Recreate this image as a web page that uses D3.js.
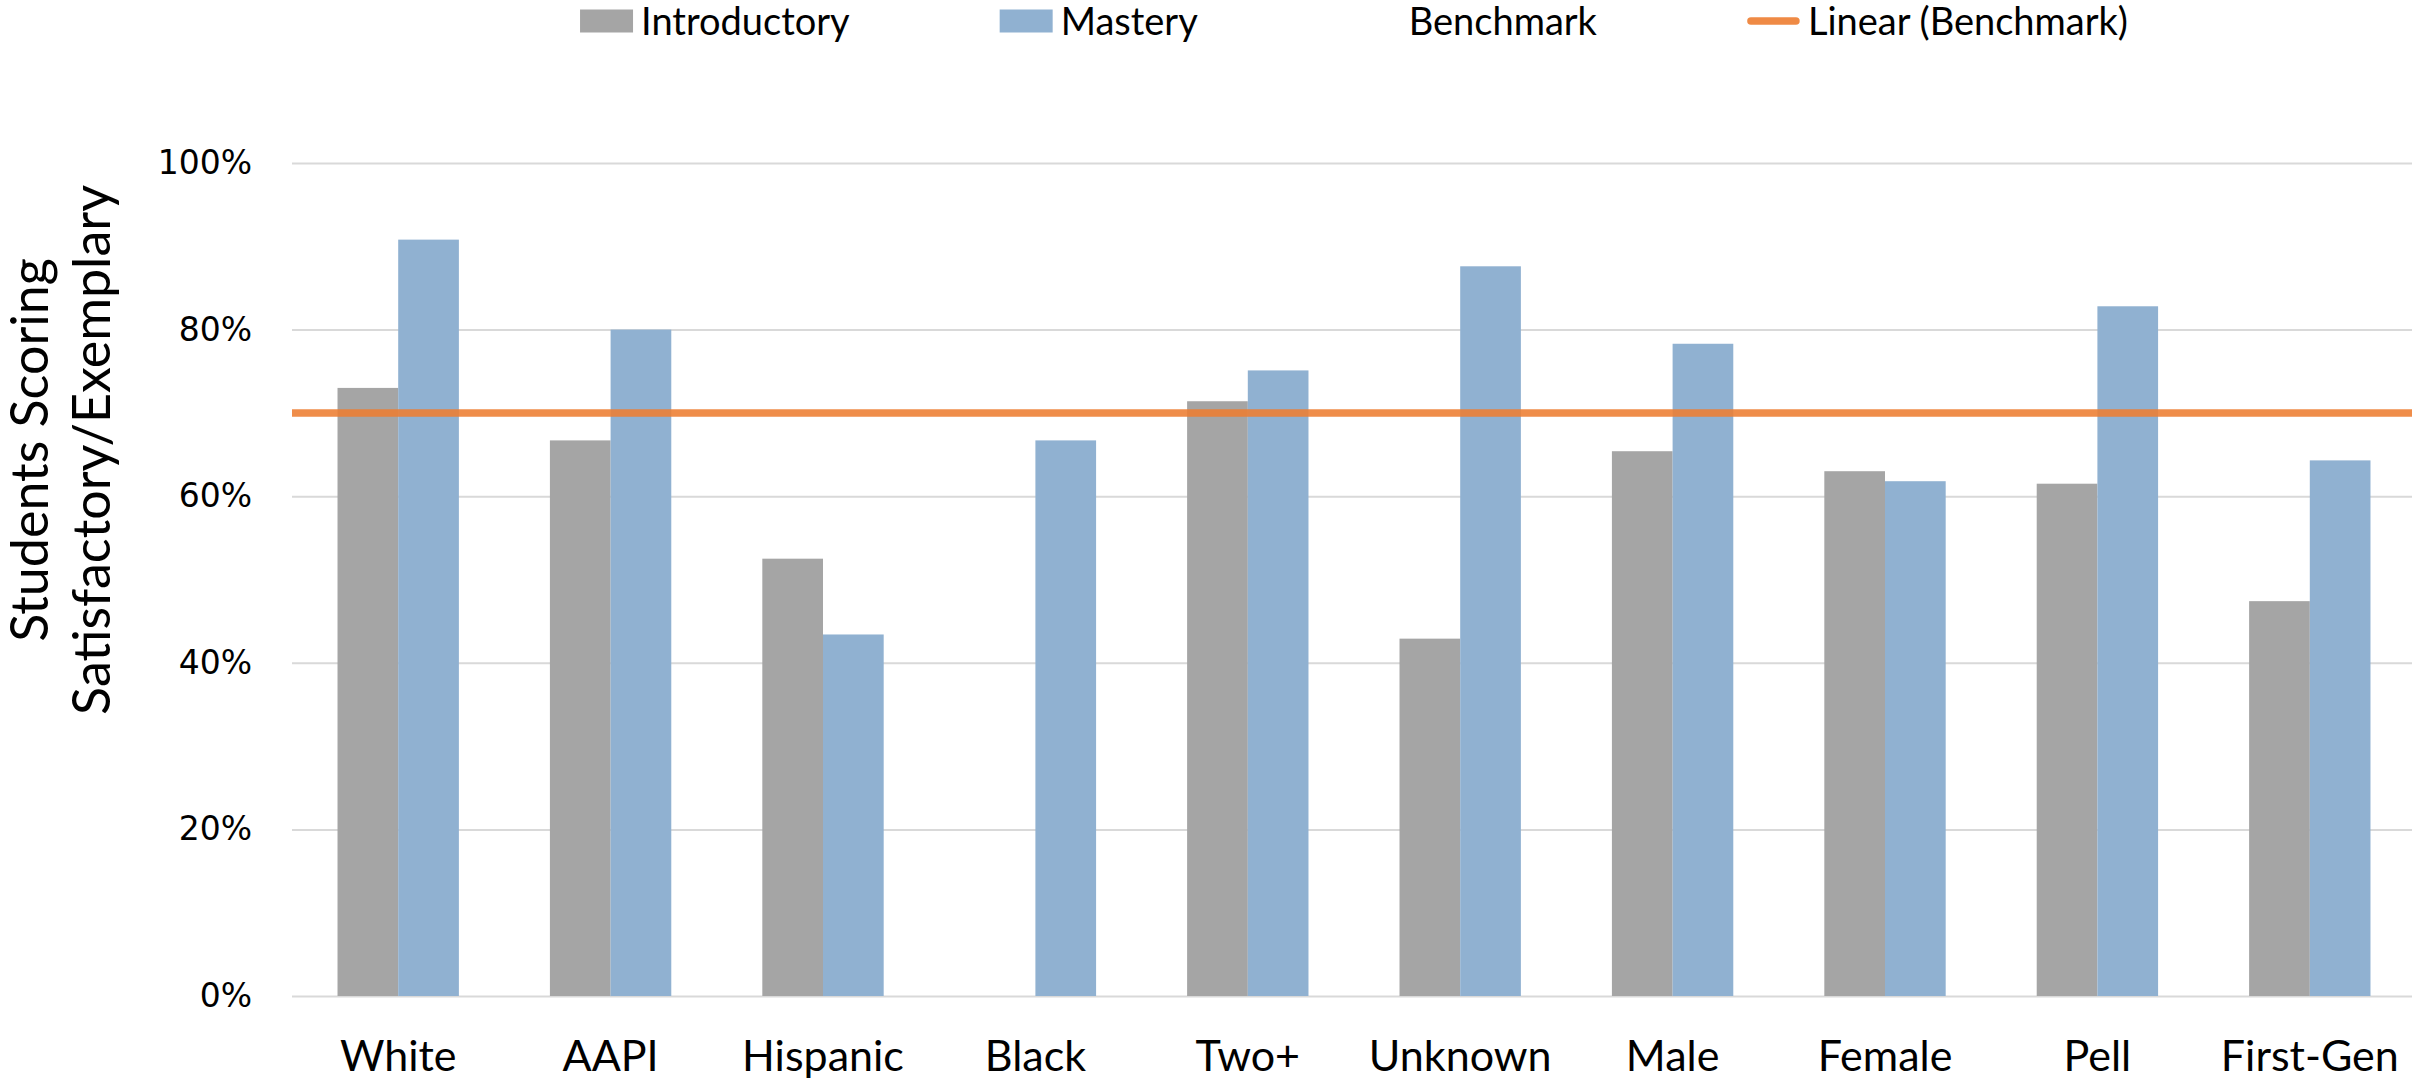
<!DOCTYPE html>
<html>
<head>
<meta charset="utf-8">
<script src="https://cdn.jsdelivr.net/npm/d3@7"></script>
<style>
  html, body { margin: 0; padding: 0; background: #ffffff; }
  svg { display: block; }
</style>
</head>
<body>
<svg id="chart" width="2412" height="1081"></svg>
<script>
// ---- data ----
const categories = ["White", "AAPI", "Hispanic", "Black", "Two+", "Unknown", "Male", "Female", "Pell", "First-Gen"];
const introductory = [0.730, 0.667, 0.525, null, 0.714, 0.429, 0.654, 0.630, 0.615, 0.474];
const mastery      = [0.908, 0.800, 0.434, 0.667, 0.751, 0.876, 0.783, 0.618, 0.828, 0.643];
const benchmark    = [0.70, 0.70, 0.70, 0.70, 0.70, 0.70, 0.70, 0.70, 0.70, 0.70];
const yTicks = [0, 0.2, 0.4, 0.6, 0.8, 1.0];
const seriesNames = ["Introductory", "Mastery", "Benchmark", "Linear (Benchmark)"];
const yTitleLines = ["Students Scoring", "Satisfactory/Exemplary"];

// ---- layout ----
const W = 2412, H = 1081;
const plot = { left: 292, right: 2416, top: 163, bottom: 996 };
const colors = { intro: "#a5a5a5", mastery: "#90b1d1", trend: "#ed7d31", grid: "#d9d9d9", text: "#000000" };
const labelFont = "Lato, 'Open Sans', sans-serif";
const tickFont = "'DejaVu Sans', sans-serif";

const svg = d3.select("#chart");
svg.append("rect").attr("width", W).attr("height", H).attr("fill", "#ffffff");

// category bands: two bars per group, gap of 1.5 bar widths between groups
const gapRatio = 1.5 / 3.5;
const x = d3.scaleBand()
  .domain(categories)
  .range([plot.left, plot.right])
  .paddingInner(gapRatio)
  .paddingOuter(gapRatio / 2);
const xSeries = d3.scaleBand()
  .domain(["introductory", "mastery"])
  .range([0, x.bandwidth()]);
const y = d3.scaleLinear().domain([0, 1]).range([plot.bottom, plot.top]);

// ---- gridlines + y tick labels ----
const yAxis = svg.append("g")
  .attr("transform", `translate(${plot.left},0)`)
  .call(d3.axisLeft(y)
    .tickValues(yTicks)
    .tickFormat(d3.format(".0%"))
    .tickSize(-(plot.right - plot.left))
    .tickPadding(40));
yAxis.select(".domain").remove();
yAxis.selectAll(".tick line").attr("stroke", colors.grid).attr("stroke-width", 2);
yAxis.selectAll(".tick text")
  .attr("fill", colors.text)
  .style("font-family", tickFont)
  .style("font-size", "33px");

// ---- bars ----
const rows = categories.map((c, i) => ({ cat: c, introductory: introductory[i], mastery: mastery[i] }));
const groups = svg.append("g").selectAll("g")
  .data(rows).join("g")
  .attr("transform", d => `translate(${x(d.cat)},0)`);
groups.selectAll("rect")
  .data(d => ["introductory", "mastery"].filter(k => d[k] != null).map(k => ({ key: k, value: d[k] })))
  .join("rect")
  .attr("x", d => xSeries(d.key))
  .attr("width", xSeries.bandwidth())
  .attr("y", d => y(d.value))
  .attr("height", d => y(0) - y(d.value))
  .attr("fill", d => d.key === "introductory" ? colors.intro : colors.mastery);

// ---- linear trendline through the benchmark series ----
const idx = benchmark.map((_, i) => i + 1);
const mx = d3.mean(idx), my = d3.mean(benchmark);
const sxx = d3.sum(idx, v => (v - mx) ** 2);
const sxy = d3.sum(idx, (v, i) => (v - mx) * (benchmark[i] - my));
const slope = sxx ? sxy / sxx : 0;
const intercept = my - slope * mx;
const idxToX = d3.scaleLinear().domain([0.5, categories.length + 0.5]).range([plot.left, plot.right]);
const trendPts = [0.5, categories.length + 0.5].map(t => [idxToX(t), y(intercept + slope * t)]);
svg.append("path")
  .attr("d", d3.line()(trendPts))
  .attr("stroke", colors.trend)
  .attr("stroke-opacity", 0.88)
  .attr("stroke-width", 7.5)
  .attr("fill", "none");

// ---- category labels ----
const xAxis = svg.append("g")
  .attr("transform", `translate(0,${plot.bottom})`)
  .call(d3.axisBottom(x).tickSize(0));
xAxis.select(".domain").remove();
xAxis.selectAll(".tick text")
  .attr("y", 75).attr("dy", null)
  .attr("fill", colors.text)
  .style("font-family", labelFont)
  .style("font-size", "43px");

// ---- y axis title ----
const yTitle = svg.append("text")
  .attr("transform", `translate(0,450) rotate(-90)`)
  .attr("text-anchor", "middle")
  .attr("fill", colors.text)
  .style("font-family", labelFont)
  .style("font-size", "52px");
yTitleLines.forEach((t, i) => {
  yTitle.append("tspan").attr("x", 0).attr("y", 48 + i * 62).text(t);
});

// ---- legend ----
const legend = svg.append("g");
const markerW = 53, markerGap = 8, itemGap = 150, legendMid = 21;
const legendItems = [
  { name: seriesNames[0], type: "box", color: colors.intro },
  { name: seriesNames[1], type: "box", color: colors.mastery },
  { name: seriesNames[2], type: "none" },
  { name: seriesNames[3], type: "line", color: colors.trend }
];
let cursor = 0;
legendItems.forEach(it => {
  const g = legend.append("g").attr("transform", `translate(${cursor},0)`);
  if (it.type === "box") {
    g.append("rect").attr("x", 0).attr("y", legendMid - 11.5).attr("width", markerW).attr("height", 23).attr("fill", it.color);
  } else if (it.type === "line") {
    g.append("line").attr("x1", 4).attr("x2", markerW - 4).attr("y1", legendMid).attr("y2", legendMid)
      .attr("stroke", it.color).attr("stroke-width", 7.5).attr("stroke-linecap", "round").attr("stroke-opacity", 0.9);
  }
  const t = g.append("text")
    .attr("x", markerW + markerGap).attr("y", 35)
    .attr("fill", colors.text)
    .style("font-family", labelFont)
    .style("font-size", "38px")
    .text(it.name);
  cursor += markerW + markerGap + t.node().getComputedTextLength() + itemGap;
});
const legendWidth = cursor - itemGap;
legend.attr("transform", `translate(${(plot.left + plot.right) / 2 - legendWidth / 2},0)`);
</script>
</body>
</html>
